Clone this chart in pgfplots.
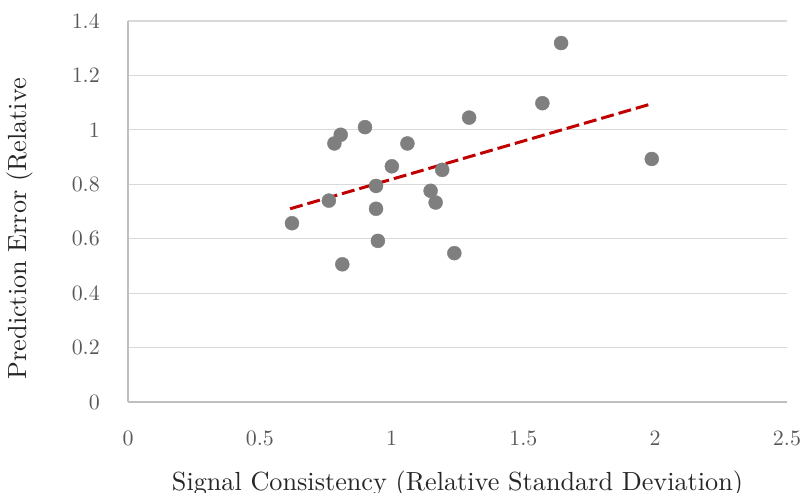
\documentclass[border=0pt]{standalone}
\usepackage{graphicx}
\usepackage{pgfplots}
\pgfplotsset{compat=1.18}
\definecolor{ptgray}{HTML}{7F7F7F}
\definecolor{trendred}{HTML}{C00000}
\definecolor{gridgray}{HTML}{D9D9D9}
\definecolor{axisgray}{HTML}{BFBFBF}
\definecolor{ticktext}{HTML}{595959}
\definecolor{labeltext}{HTML}{262626}
\newcommand{\tl}[1]{\scalebox{2.2}{#1}}
\newcommand{\al}[1]{\scalebox{2.63}{#1}}
\begin{document}
\begin{tikzpicture}
\begin{axis}[
  at={(0,0)}, anchor=south west,
  scale only axis,
  width=659bp, height=381bp,
  xmin=0, xmax=2.5, ymin=0, ymax=1.4,
  xtick={0,0.5,1,1.5,2,2.5},
  ytick={0,0.2,0.4,0.6,0.8,1,1.2,1.4},
  xticklabels={\tl{0},\tl{0.5},\tl{1},\tl{1.5},\tl{2},\tl{2.5}},
  yticklabels={\tl{0},\tl{0.2},\tl{0.4},\tl{0.6},\tl{0.8},\tl{1},\tl{1.2},\tl{1.4}},
  major tick length=0pt,
  axis x line*=bottom, axis y line*=left,
  axis line style={-, draw=axisgray, line width=1.2bp},
  ymajorgrids, grid style={gridgray, line width=1.2bp},
  ticklabel style={font=\fontsize{10}{12}\selectfont, text=ticktext},
  yticklabel style={anchor=east, inner sep=0pt, xshift=-28bp},
  xticklabel style={anchor=north, inner sep=0pt, yshift=-29bp},
  every axis y label/.style={at={(axis description cs:-0.164,0.455)}, rotate=90, anchor=center},
  every axis x label/.style={at={(axis description cs:0.5,-0.231)}, anchor=base},
  label style={font=\fontsize{10}{12}\selectfont, text=labeltext},
  xlabel={\al{Signal Consistency (Relative Standard Deviation)}},
  ylabel={\al{Prediction Error (Relative}},
  clip=false,
]
\addplot[trendred, line width=3bp, dash pattern=on 13bp off 5bp] coordinates {(0.615,0.710) (1.980,1.094)};
\addplot[only marks, mark=*, mark size=7bp, mark options={fill=ptgray, draw=ptgray}] coordinates {
(0.622,0.657) (0.762,0.740) (0.783,0.950) (0.807,0.982) (0.813,0.506)
(0.899,1.010) (0.941,0.794) (0.941,0.710) (0.948,0.592) (1.001,0.866)
(1.060,0.950) (1.148,0.776) (1.167,0.733) (1.192,0.853) (1.238,0.547)
(1.294,1.045) (1.572,1.098) (1.643,1.319) (1.987,0.893)};
\end{axis}
\pgfresetboundingbox
\path[use as bounding box] (-128bp,-91bp) rectangle (681bp,402bp);
\end{tikzpicture}
\end{document}
